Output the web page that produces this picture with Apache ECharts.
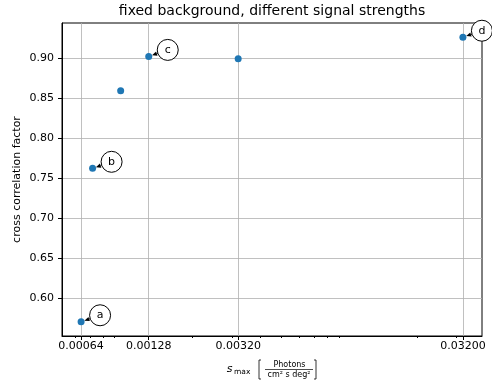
<!DOCTYPE html>
<html>
<head>
<meta charset="utf-8">
<script src="https://cdn.jsdelivr.net/npm/echarts@6/dist/echarts.min.js"></script>
<style>
  html, body { margin: 0; padding: 0; background: #fff; }
  #chart { width: 492px; height: 380px; }
</style>
</head>
<body>
<div id="chart"></div>
<script>
// Peak signal strength (photons / cm^2 s deg^2) and the resulting cross correlation factor
const signalMax = [0.00064, 0.00072, 0.00096, 0.00128, 0.0032, 0.032];
const crossCorr = [0.570, 0.762, 0.859, 0.902, 0.899, 0.926];
// Letter tags for the highlighted runs ('' = untagged)
const pointTags = ['a', 'b', '', 'c', '', 'd'];

// Axis ticks
const xMajorTicks = [0.00064, 0.00128, 0.0032, 0.032];
const xTickLabels = ['0.00064', '0.00128', '0.00320', '0.03200'];
const xMinorTicks = [0.0006, 0.0007, 0.0008, 0.0009, 0.002, 0.003, 0.004, 0.005,
                     0.006, 0.007, 0.008, 0.009, 0.02, 0.03];
const yTicks = [0.60, 0.65, 0.70, 0.75, 0.80, 0.85, 0.90];

const FONT = 'DejaVu Sans';
const GRID_COLOR = '#b0b0b0';

// 5% padding around the data, in log space for x
const lx = signalMax.map(Math.log10);
const lxMin = Math.min(...lx), lxMax = Math.max(...lx);
const lxPad = 0.05 * (lxMax - lxMin);
const xMin = Math.pow(10, lxMin - lxPad);
const xMax = Math.pow(10, lxMax + lxPad);
const yLo = Math.min(...crossCorr), yHi = Math.max(...crossCorr);
const yPad = 0.05 * (yHi - yLo);
const yMin = yLo - yPad, yMax = yHi + yPad;

const points = signalMax.map((x, i) => [x, crossCorr[i]]);
const tagged = [];
const taggedNames = [];
pointTags.forEach((t, i) => { if (t) { tagged.push(points[i]); taggedNames.push(t); } });

function xLabel(v) {
  for (let i = 0; i < xMajorTicks.length; i++) {
    if (Math.abs(v - xMajorTicks[i]) / xMajorTicks[i] < 1e-6) return xTickLabels[i];
  }
  return Number(v).toFixed(5);
}

const chart = echarts.init(document.getElementById('chart'), null, { renderer: 'canvas' });

chart.setOption({
  animation: false,
  backgroundColor: '#fff',
  textStyle: { fontFamily: FONT },
  title: {
    text: 'fixed background, different signal strengths',
    left: 272, top: 4, padding: 0, textAlign: 'center',
    textStyle: { fontFamily: FONT, fontSize: 14, fontWeight: 'normal', color: '#000' }
  },
  grid: {
    left: 62, right: 10, top: 23, bottom: 44,
    show: true, borderColor: '#000', borderWidth: 1, backgroundColor: 'transparent'
  },
  xAxis: [
    {
      type: 'log', logBase: 10, min: xMin, max: xMax, position: 'bottom',
      axisLine: { show: true, lineStyle: { color: '#000', width: 1 } },
      axisTick: { show: true, length: 4, customValues: xMajorTicks, lineStyle: { color: '#000', width: 1 } },
      axisLabel: {
        customValues: xMajorTicks, formatter: xLabel, margin: 5,
        color: '#000', fontSize: 11, fontFamily: FONT
      },
      splitLine: { show: true, lineStyle: { color: GRID_COLOR, width: 0.8 } },
      minorTick: { show: false }, minorSplitLine: { show: false }
    },
    {
      type: 'log', logBase: 10, min: xMin, max: xMax, position: 'bottom', gridIndex: 0,
      axisLine: { show: false },
      axisTick: { show: true, length: 2, customValues: xMinorTicks, lineStyle: { color: '#000', width: 1 } },
      axisLabel: { show: false },
      splitLine: { show: false }
    }
  ],
  yAxis: {
    type: 'value', min: yMin, max: yMax,
    name: 'cross correlation factor', nameLocation: 'middle', nameGap: 39, nameRotate: 90,
    nameMoveOverlap: false,
    nameTextStyle: { fontFamily: FONT, fontSize: 11, color: '#000' },
    axisLine: { show: true, lineStyle: { color: '#000', width: 1 } },
    axisTick: { show: true, length: 4, customValues: yTicks, lineStyle: { color: '#000', width: 1 } },
    axisLabel: {
      customValues: yTicks, formatter: v => Number(v).toFixed(2), margin: 8,
      color: '#000', fontSize: 11, fontFamily: FONT
    },
    splitLine: { show: true, lineStyle: { color: GRID_COLOR, width: 0.8 } }
  },
  series: [
    {
      type: 'scatter', xAxisIndex: 0, data: points,
      symbol: 'circle', symbolSize: 7,
      itemStyle: { color: '#1f77b4', opacity: 1 }, z: 3
    },
    {
      type: 'custom', xAxisIndex: 0, data: tagged, clip: false, z: 4,
      renderItem(params, api) {
        const p = api.coord([api.value(0), api.value(1)]);
        const c = [p[0] + 19, p[1] - 6.5];
        const r = 10.5;
        const dx = p[0] - c[0], dy = p[1] - c[1];
        const len = Math.hypot(dx, dy);
        const ux = dx / len, uy = dy / len;
        const start = [c[0] + ux * r, c[1] + uy * r];
        const tip = [p[0] - ux * 3.5, p[1] - uy * 3.5];
        const headLen = 5, half = 2.2;
        const base = [tip[0] - ux * headLen, tip[1] - uy * headLen];
        const nx = -uy, ny = ux;
        return {
          type: 'group',
          children: [
            { type: 'line', shape: { x1: start[0], y1: start[1], x2: base[0], y2: base[1] },
              style: { stroke: '#000', lineWidth: 1 } },
            { type: 'polygon',
              shape: { points: [tip, [base[0] + nx * half, base[1] + ny * half], [base[0] - nx * half, base[1] - ny * half]] },
              style: { fill: '#000' } },
            { type: 'circle', shape: { cx: c[0], cy: c[1], r: r },
              style: { fill: '#fff', stroke: '#000', lineWidth: 1 } },
            { type: 'text', x: c[0], y: c[1],
              style: { text: taggedNames[params.dataIndex], fontSize: 11, fontFamily: FONT,
                       fill: '#000', align: 'center', verticalAlign: 'middle' } }
          ]
        };
      }
    }
  ],
  graphic: [
    { type: 'text', x: 229.5, y: 369, style: { text: 's', fontSize: 11, fontStyle: 'italic', fontFamily: FONT, fill: '#000', align: 'center', verticalAlign: 'middle' } },
    { type: 'text', x: 234, y: 372, style: { text: 'max', fontSize: 7.5, fontFamily: FONT, fill: '#000', align: 'left', verticalAlign: 'middle' } },
    { type: 'polyline', shape: { points: [[261, 360], [259, 360], [259, 379], [261, 379]] }, style: { stroke: '#000', lineWidth: 0.8, fill: null } },
    { type: 'text', x: 289.5, y: 365, style: { text: 'Photons', fontSize: 8, fontFamily: FONT, fill: '#000', align: 'center', verticalAlign: 'middle' } },
    { type: 'line', shape: { x1: 265, y1: 369.5, x2: 313, y2: 369.5 }, style: { stroke: '#000', lineWidth: 0.7 } },
    { type: 'text', x: 289, y: 374.5, style: { text: 'cm² s deg²', fontSize: 8, fontFamily: FONT, fill: '#000', align: 'center', verticalAlign: 'middle' } },
    { type: 'polyline', shape: { points: [[314, 360], [316, 360], [316, 379], [314, 379]] }, style: { stroke: '#000', lineWidth: 0.8, fill: null } }
  ]
});
</script>
</body>
</html>
